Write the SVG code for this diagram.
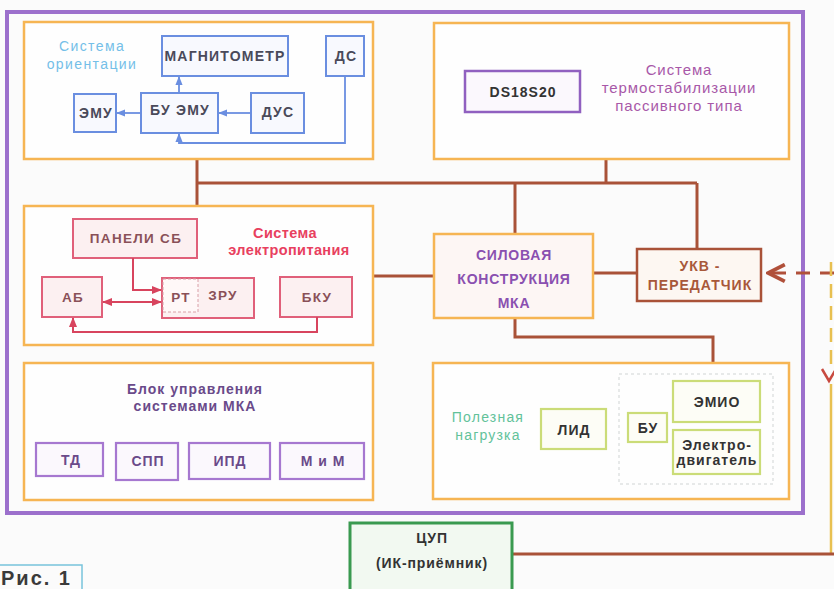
<svg xmlns="http://www.w3.org/2000/svg" width="834" height="589" viewBox="0 0 834 589">
<style>
text{font-family:"Liberation Sans",Arial,sans-serif;text-anchor:middle;}
.sys{fill:#fefefe;stroke:#f6b553;stroke-width:2.5;}
.bl{fill:#f8f9fe;stroke:#6a8ee0;stroke-width:2;}
.bt{font-size:14px;font-weight:bold;fill:#4a4a5a;letter-spacing:1.2px;}
.rd{fill:#fcf0f1;stroke:#e0607a;stroke-width:2;}
.rt{font-size:13.5px;font-weight:bold;fill:#8a5058;letter-spacing:1.3px;}
.pu{fill:#fbf8fd;stroke:#a678d0;stroke-width:2.2;}
.pt{font-size:14px;font-weight:bold;fill:#6a4a8a;letter-spacing:1px;}
.gn{fill:#fdfdf6;stroke:#cbdc78;stroke-width:2.2;}
.gt{font-size:14px;font-weight:bold;fill:#333;letter-spacing:1px;}
.ht{font-size:14px;font-weight:bold;fill:#8a50b0;letter-spacing:0.8px;}
.br{stroke:#a95238;stroke-width:3;fill:none;}
.bc{stroke:#6a8ee0;stroke-width:1.8;fill:none;}
.rc{stroke:#d8445e;stroke-width:2;fill:none;}
</style>
<defs>
<marker id="ab" viewBox="0 0 10 10" refX="9" refY="5" markerWidth="5" markerHeight="5" orient="auto-start-reverse"><path d="M0,1 L10,5 L0,9 z" fill="#6a8ee0"/></marker>
<marker id="ar" viewBox="0 0 10 10" refX="9" refY="5" markerWidth="5" markerHeight="5" orient="auto-start-reverse"><path d="M0,1 L10,5 L0,9 z" fill="#d8445e"/></marker>
<marker id="av" viewBox="0 0 10 10" refX="9" refY="5" markerWidth="7" markerHeight="7" orient="auto"><path d="M1,1 L9,5 L1,9" fill="none" stroke="#b0503a" stroke-width="1.8"/></marker>
</defs>
<rect width="834" height="589" fill="#fbfbfb"/>

<rect x="7" y="12" width="796" height="501" fill="none" stroke="#9c70cc" stroke-width="4"/>

<g id="connectors">
<path class="br" d="M197,159 V206"/>
<path class="br" d="M197,183 H697"/>
<path class="br" d="M606,159 V183"/>
<path class="br" d="M515,183 V234"/>
<path class="br" d="M697,183 V249"/>
<path class="br" d="M373,276 H434"/>
<path class="br" d="M593,273 H637"/>
<path class="br" d="M515,318 V337 H713 V363"/>
<path d="M834,273 H768" stroke="#b0503a" stroke-width="3" stroke-dasharray="14,10" fill="none" marker-end="url(#av)"/>
<path d="M831,262 V370" stroke="#e8c050" stroke-width="2.5" stroke-dasharray="14,8" fill="none"/>
<path d="M822,369 L829,381 L836,369" stroke="#c84a40" stroke-width="2.5" fill="none"/>
<path d="M831,384 V553" stroke="#e8c050" stroke-width="2.5" fill="none"/>
<path class="br" d="M512,554 H834" stroke-width="2.5"/>
</g>

<g id="sys-orient">
<rect class="sys" x="24" y="22" width="349" height="137"/>
<text x="92" y="51" font-size="14" fill="#74bfe8" letter-spacing="1.4">Система</text>
<text x="92" y="69" font-size="14" fill="#74bfe8" letter-spacing="1.4">ориентации</text>
<g id="magnit"><rect class="bl" x="162" y="36" width="126" height="40"/><text class="bt" x="225" y="61">МАГНИТОМЕТР</text></g>
<g id="ds"><rect class="bl" x="326" y="36" width="38" height="40"/><text class="bt" x="346" y="61">ДС</text></g>
<g id="emu"><rect class="bl" x="74" y="94" width="42" height="38"/><text class="bt" x="96" y="118">ЭМУ</text></g>
<g id="buemu"><rect class="bl" x="141" y="93" width="77" height="40"/><text class="bt" x="180" y="115">БУ ЭМУ</text></g>
<g id="dus"><rect class="bl" x="251" y="93" width="53" height="40"/><text class="bt" x="278" y="117">ДУС</text></g>
<path class="bc" d="M179,93 V77" marker-end="url(#ab)"/>
<path class="bc" d="M141,113 H117" marker-end="url(#ab)"/>
<path class="bc" d="M251,113 H219" marker-end="url(#ab)"/>
<path class="bc" d="M345,76 V143 H179 V134" marker-end="url(#ab)"/>
</g>

<g id="sys-thermo">
<rect class="sys" x="434" y="23" width="355" height="136"/>
<g id="ds18"><rect x="465" y="71" width="115" height="41" fill="#fbf8fd" stroke="#9060c0" stroke-width="2.5"/><text class="gt" x="523" y="97">DS18S20</text></g>
<text x="679" y="75" font-size="15" fill="#a858a8" letter-spacing="0.9">Система</text>
<text x="679" y="93" font-size="15" fill="#a858a8" letter-spacing="0.9">термостабилизации</text>
<text x="679" y="111" font-size="15" fill="#a858a8" letter-spacing="0.9">пассивного типа</text>
</g>

<g id="sys-power">
<rect class="sys" x="24" y="206" width="349" height="139"/>
<text x="285" y="238" font-size="14.5" font-weight="bold" fill="#e8405e" letter-spacing="0.4">Система</text>
<text x="289" y="255" font-size="14.5" font-weight="bold" fill="#e8405e" letter-spacing="0.4">электропитания</text>
<g id="panels"><rect class="rd" x="73" y="219" width="124" height="39"/><text class="rt" x="136" y="243">ПАНЕЛИ СБ</text></g>
<g id="ab"><rect class="rd" x="42" y="277" width="60" height="40"/><text class="rt" x="73" y="302">АБ</text></g>
<g id="zru"><rect class="rd" x="162" y="278" width="92" height="40"/><rect x="163" y="279" width="35" height="33" fill="#fff8f8" stroke="#d8a0a8" stroke-width="1" stroke-dasharray="3,2"/><text class="rt" x="181" y="302">РТ</text><text class="rt" x="223" y="300">ЗРУ</text></g>
<g id="bku"><rect class="rd" x="280" y="277" width="72" height="40"/><text class="rt" x="317" y="302">БКУ</text></g>
<path class="rc" d="M133,258 V290 H161" marker-end="url(#ar)"/>
<path class="rc" d="M103,302 H161" marker-start="url(#ar)" marker-end="url(#ar)"/>
<path class="rc" d="M317,317 V332 H73 V318" marker-end="url(#ar)"/>
</g>

<g id="silovaya">
<rect x="434" y="234" width="159" height="84" fill="#fdf6f4" stroke="#f6b553" stroke-width="2.5"/>
<text class="ht" x="514" y="260">СИЛОВАЯ</text>
<text class="ht" x="514" y="284">КОНСТРУКЦИЯ</text>
<text class="ht" x="514" y="308">МКА</text>
</g>

<g id="ukv">
<rect x="637" y="249" width="124" height="52" fill="#fdf7f2" stroke="#a95238" stroke-width="2.5"/>
<text x="700" y="271" font-size="14" font-weight="bold" fill="#a8583a" letter-spacing="1">УКВ -</text>
<text x="700" y="290" font-size="14" font-weight="bold" fill="#a8583a" letter-spacing="1">ПЕРЕДАТЧИК</text>
</g>

<g id="bu-mka">
<rect class="sys" x="24" y="363" width="349" height="137"/>
<text class="pt" x="195" y="394" font-size="14.5">Блок управления</text>
<text class="pt" x="195" y="411" font-size="14.5">системами МКА</text>
<g id="td"><rect class="pu" x="36" y="443" width="67" height="33"/><text class="pt" x="71" y="465">ТД</text></g>
<g id="spp"><rect class="pu" x="116" y="443" width="62" height="37"/><text class="pt" x="148" y="466">СПП</text></g>
<g id="ipd"><rect class="pu" x="189" y="443" width="81" height="36"/><text class="pt" x="230" y="466">ИПД</text></g>
<g id="mim"><rect class="pu" x="280" y="443" width="84" height="36"/><text class="pt" x="323" y="466">М и М</text></g>
</g>

<g id="payload">
<rect class="sys" x="433" y="363" width="356" height="136"/>
<text x="488" y="422" font-size="14" fill="#62c29a" letter-spacing="1.2">Полезная</text>
<text x="488" y="440" font-size="14" fill="#62c29a" letter-spacing="1.2">нагрузка</text>
<g id="lid"><rect class="gn" x="541" y="409" width="65" height="40"/><text class="gt" x="574" y="435">ЛИД</text></g>
<rect x="619" y="374" width="154" height="110" fill="none" stroke="#d0d4d4" stroke-width="1" stroke-dasharray="3,3"/>
<g id="bu"><rect class="gn" x="628" y="413" width="39" height="29"/><text class="gt" x="648" y="433" font-size="13">БУ</text></g>
<g id="emio"><rect class="gn" x="673" y="381" width="87" height="41"/><text class="gt" x="717" y="407">ЭМИО</text></g>
<g id="motor"><rect class="gn" x="673" y="430" width="87" height="44"/><text class="gt" x="717" y="450" font-size="12" letter-spacing="0.5">Электро-</text><text class="gt" x="717" y="465" font-size="12" letter-spacing="0.5">двигатель</text></g>
</g>

<g id="cup">
<rect x="350" y="523" width="162" height="70" fill="#f2f9f1" stroke="#3a9a50" stroke-width="3"/>
<text x="432" y="543" font-size="14" font-weight="bold" fill="#333" letter-spacing="0.9">ЦУП</text>
<text x="432" y="568" font-size="14" font-weight="bold" fill="#333" letter-spacing="0.9">(ИК-приёмник)</text>
</g>

<g id="fig">
<rect x="-2" y="565" width="84" height="27" fill="#fbfbfb" stroke="#78c4dc" stroke-width="1.5"/>
<text x="1" y="585" font-size="20" font-weight="bold" fill="#3a3a3a" letter-spacing="2" style="text-anchor:start">Рис. 1</text>
</g>
</svg>
